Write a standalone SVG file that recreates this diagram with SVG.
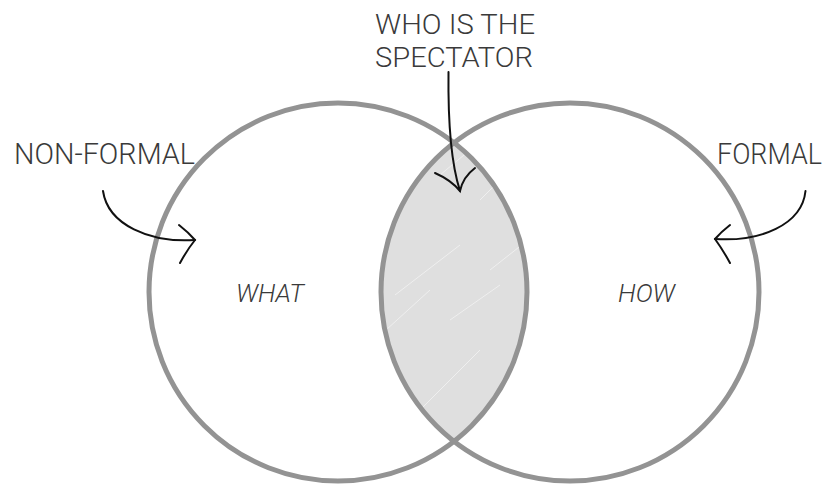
<svg xmlns="http://www.w3.org/2000/svg" width="830" height="487" viewBox="0 0 830 487">
<style>
.ring{fill:none;stroke:#939393;stroke-width:5}
.lbl{font-family:"Roboto","Liberation Sans",sans-serif;fill:#3a3a3a;font-weight:300}
.it{font-style:italic}
.arr{fill:none;stroke:#111;stroke-width:2;stroke-linecap:round}
.streak{stroke:#fff;stroke-width:1;opacity:0.5}
</style>
<defs>
<clipPath id="lensClip">
<path d="M454,142.8 A189,189 0 0 1 454,441.2 A189,189 0 0 1 454,142.8 Z"/>
</clipPath>
</defs>
<rect width="830" height="487" fill="#ffffff"/>
<g id="lens">
<path d="M454,142.8 A189,189 0 0 1 454,441.2 A189,189 0 0 1 454,142.8 Z" fill="#dfdfdf"/>
<g clip-path="url(#lensClip)">
<line class="streak" x1="440" y1="175" x2="470" y2="150"/>
<line class="streak" x1="480" y1="200" x2="495" y2="185"/>
<line class="streak" x1="386" y1="330" x2="430" y2="290"/>
<line class="streak" x1="395" y1="295" x2="460" y2="245"/>
<line class="streak" x1="490" y1="270" x2="528" y2="240"/>
<line class="streak" x1="410" y1="420" x2="480" y2="350"/>
<line class="streak" x1="450" y1="320" x2="500" y2="285"/>
</g>
</g>
<g id="left-circle">
<circle class="ring" cx="338" cy="292" r="189"/>
<text class="lbl it" x="236" y="302" font-size="26" textLength="68" lengthAdjust="spacingAndGlyphs">WHAT</text>
</g>
<g id="right-circle">
<circle class="ring" cx="570" cy="292" r="189"/>
<text class="lbl it" x="618" y="302" font-size="26" textLength="57" lengthAdjust="spacingAndGlyphs">HOW</text>
</g>
<g id="label-spectator">
<text class="lbl" x="375" y="33.5" font-size="28" textLength="160" lengthAdjust="spacingAndGlyphs">WHO IS THE</text>
<text class="lbl" x="375" y="66.5" font-size="28" textLength="158" lengthAdjust="spacingAndGlyphs">SPECTATOR</text>
</g>
<g id="label-nonformal">
<text class="lbl" x="14" y="164" font-size="29" textLength="181" lengthAdjust="spacingAndGlyphs">NON-FORMAL</text>
</g>
<g id="label-formal">
<text class="lbl" x="717" y="164" font-size="29" textLength="105" lengthAdjust="spacingAndGlyphs">FORMAL</text>
</g>
<g id="connectors">
<path class="arr" d="M448.5,72 C448,115 450,160 460,191"/>
<path class="arr" d="M435,173 Q451,180 460,191 Q463,177 475,168"/>
<path class="arr" d="M103,191 C108,225 150,243 195,240"/>
<path class="arr" d="M179,225 Q188,232 195,240 Q187,250 180,263"/>
<path class="arr" d="M805.5,191 C802,225 760,242 715,239"/>
<path class="arr" d="M730,225 Q721,232 715,239 Q723,250 730,263"/>
</g>
</svg>
